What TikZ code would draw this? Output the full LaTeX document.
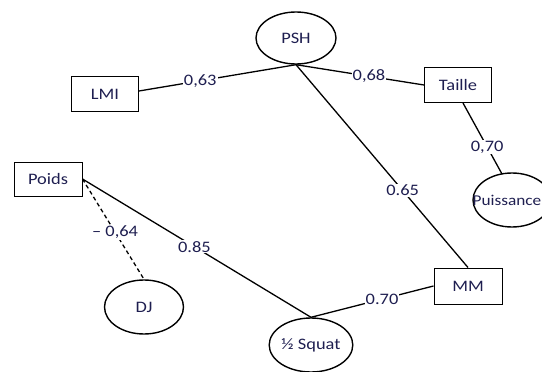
\documentclass[tikz,border=0pt]{standalone}
\usepackage{fontspec}
\setmainfont{Carlito}[FakeStretch=1.15]
\usetikzlibrary{shapes.geometric}
\definecolor{txt}{RGB}{30,30,80}
\tikzset{
  box/.style={draw=black, line width=1pt, rectangle, minimum width=67pt, minimum height=35pt, inner sep=0pt, text=txt, font=\fontsize{16}{18}\selectfont},
  oval/.style={draw=black, line width=1.4pt, ellipse, minimum width=80pt, minimum height=52pt, inner sep=0pt, text=txt, font=\fontsize{16}{18}\selectfont},
  ovalline/.style={draw=black, line width=1.4pt},
  link/.style={line width=1.3pt, black},
  lab/.style={fill=white, inner sep=1pt, text=txt, font=\fontsize{16}{18}\selectfont}
}
\begin{document}
\begin{tikzpicture}[x=1pt, y=-1pt]
\useasboundingbox (0,0) rectangle (542,372);
\draw[ovalline] (512,200) ellipse [x radius=39pt, y radius=27pt];
\node[inner sep=0pt, text=txt, font=\fontsize{15}{17}\selectfont] (Puis) at (507,200) {Puissance};
\coordinate (PuisTop) at (502,174);
\node[oval] (PSH) at (296,38) {PSH};
\node[box] (LMI) at (105,94) {LMI};
\node[box] (Taille) at (458,85) {Taille};
\node[box, minimum width=68pt, minimum height=34pt] (Poids) at (48,179) {Poids};
\node[oval, minimum width=79pt, minimum height=54pt] (DJ) at (144,307) {DJ};
\node[box, minimum width=68pt, minimum height=36pt] (MM) at (468,286) {MM};
\node[oval, minimum width=82pt, minimum height=54pt] (Sq) at (311,345) {½ Squat};

\draw[link] ([yshift=3pt]LMI.east) -- node[lab, pos=0.39] {0,63} (PSH.south);
\draw[link] (PSH.south) -- node[lab, pos=0.57] {0,68} (Taille.west);
\draw[link] ([xshift=5pt]Taille.south) -- node[lab, pos=0.62] {0,70} (PuisTop);
\draw[link] (PSH.south) -- node[lab, pos=0.62] {0.65} (MM.north);
\draw[link] (MM.west) -- node[lab, pos=0.42] {0.70} (Sq.north);
\draw[link] (Poids.east) -- node[lab, pos=0.49] {0.85} (Sq.north);
\draw[link, dashed, dash pattern=on 4pt off 3pt] (Poids.east) -- node[lab, pos=0.53] {– 0,64} (DJ.north);
\end{tikzpicture}
\end{document}
